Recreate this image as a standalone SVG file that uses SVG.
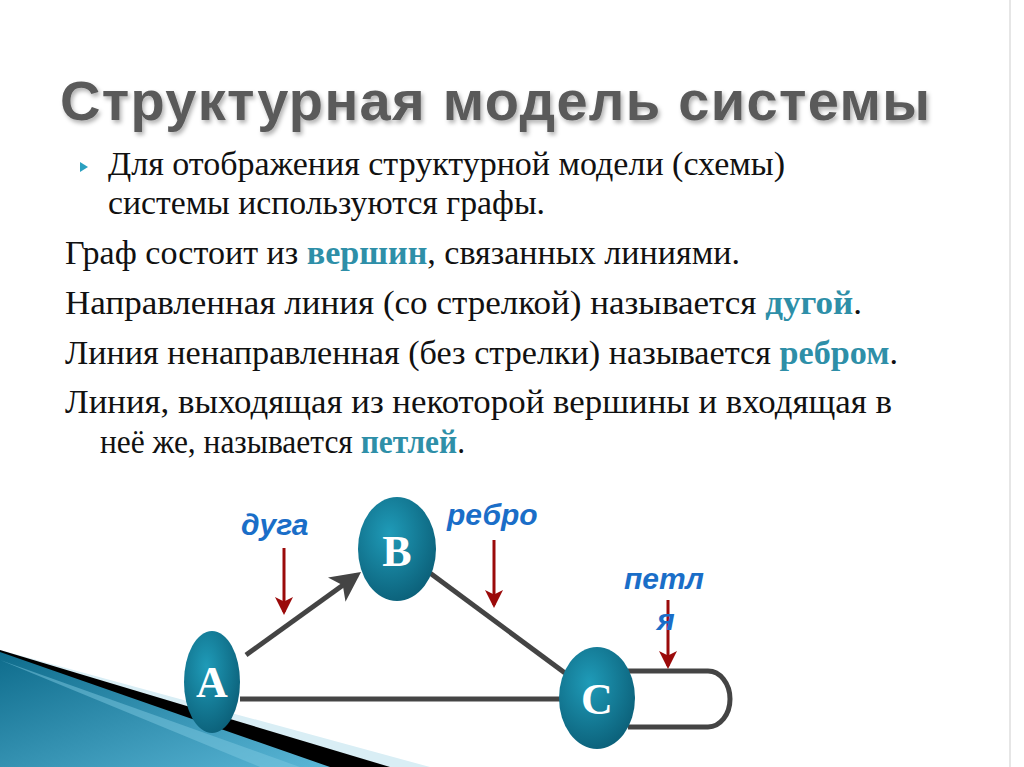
<svg xmlns="http://www.w3.org/2000/svg" width="1024" height="767" viewBox="0 0 1024 767">
<defs>
<style>
.b{font-family:"Liberation Serif",serif;font-size:33px;fill:#111}
.k{font-weight:bold;fill:#2e8fa8}
.lbl{font-family:"Liberation Sans",sans-serif;font-size:30px;font-weight:bold;font-style:italic;fill:#1a6ec8}
.n{font-family:"Liberation Serif",serif;font-size:44px;font-weight:bold;fill:#fff;text-anchor:middle}
.e{stroke:#444;stroke-width:5;fill:none}
.r{stroke:#9b0a0a;stroke-width:3;fill:none}
</style>
<filter id="sh" x="-5%" y="-20%" width="110%" height="150%"><feDropShadow dx="2" dy="3" stdDeviation="2" flood-color="#000" flood-opacity="0.3"/></filter>
<radialGradient id="g" cx="0.4" cy="0.35" r="0.7"><stop offset="0" stop-color="#1f9bb8"/><stop offset="1" stop-color="#0b5f78"/></radialGradient>
<linearGradient id="w" x1="0" y1="0" x2="1" y2="1"><stop offset="0" stop-color="#0e6c8c"/><stop offset="1" stop-color="#5ab6d6"/></linearGradient>
<marker id="ah" markerWidth="6" markerHeight="6" refX="5" refY="3" orient="auto"><path d="M0,0 L6,3 L0,6 L1.5,3Z" fill="#444"/></marker>
<marker id="rh" markerWidth="6" markerHeight="6" refX="5" refY="3" orient="auto"><path d="M0,0 L6,3 L0,6 L1.5,3Z" fill="#9b0a0a"/></marker>
</defs>
<rect width="1024" height="767" fill="#fff"/>
<line x1="1010" y1="0" x2="1010" y2="767" stroke="#e6e6e6" stroke-width="2"/>
<polygon points="0,650 0,767 430,767" fill="#d9eef5"/>
<polygon points="0,650 0,767 390,767" fill="#000"/>
<polygon points="0,652 0,767 330,767" fill="url(#w)"/>
<polygon points="0,660 300,767 260,767" fill="#7cc7e0" opacity="0.5"/>
<text x="60" y="120" font-family="'Liberation Sans',sans-serif" font-size="56" font-weight="bold" fill="#5a5a5a" filter="url(#sh)" textLength="870">Структурная модель системы</text>
<polygon points="80,162 88,167 80,172" fill="#2aa0c0"/>
<text class="b" x="108" y="175" textLength="677" lengthAdjust="spacingAndGlyphs">Для отображения структурной модели (схемы)</text>
<text class="b" x="108" y="214" textLength="437" lengthAdjust="spacingAndGlyphs">системы используются графы.</text>
<text class="b" x="65" y="264" textLength="675" lengthAdjust="spacingAndGlyphs">Граф состоит из <tspan class="k">вершин</tspan>, связанных линиями.</text>
<text class="b" x="65" y="314" textLength="797" lengthAdjust="spacingAndGlyphs">Направленная линия (со стрелкой) называется <tspan class="k">дугой</tspan>.</text>
<text class="b" x="65" y="364" textLength="833" lengthAdjust="spacingAndGlyphs">Линия ненаправленная (без стрелки) называется <tspan class="k">ребром</tspan>.</text>
<text class="b" x="65" y="413" textLength="827" lengthAdjust="spacingAndGlyphs">Линия, выходящая из некоторой вершины и входящая в</text>
<text class="b" x="100" y="453" textLength="365" lengthAdjust="spacingAndGlyphs">неё же, называется <tspan class="k">петлей</tspan>.</text>
<g id="connectors">
<line class="e" x1="246" y1="655" x2="357" y2="575" marker-end="url(#ah)" stroke-width="4"/>
<line class="e" x1="430" y1="573" x2="565" y2="673"/>
<line class="e" x1="240" y1="699" x2="562" y2="699"/>
<path class="e" d="M628,671 H708 A22,28 0 0 1 708,727 H628"/>
<line class="r" x1="284" y1="548" x2="284" y2="612" marker-end="url(#rh)"/>
<line class="r" x1="494" y1="540" x2="494" y2="605" marker-end="url(#rh)"/>
<line class="r" x1="668" y1="600" x2="668" y2="666" marker-end="url(#rh)"/>
</g>
<text class="lbl" x="241" y="535">дуга</text>
<text class="lbl" x="447" y="525">ребро</text>
<text class="lbl" x="624" y="589">петл</text>
<text class="lbl" x="657" y="630">я</text>
<g id="A"><ellipse cx="212" cy="682" rx="28" ry="51" fill="url(#g)"/><text class="n" x="212" y="697">A</text></g>
<g id="B"><ellipse cx="397" cy="549" rx="39" ry="52" fill="url(#g)"/><text class="n" x="397" y="566">B</text></g>
<g id="C"><ellipse cx="597" cy="698" rx="38" ry="51" fill="url(#g)"/><text class="n" x="597" y="714">C</text></g>
</svg>
